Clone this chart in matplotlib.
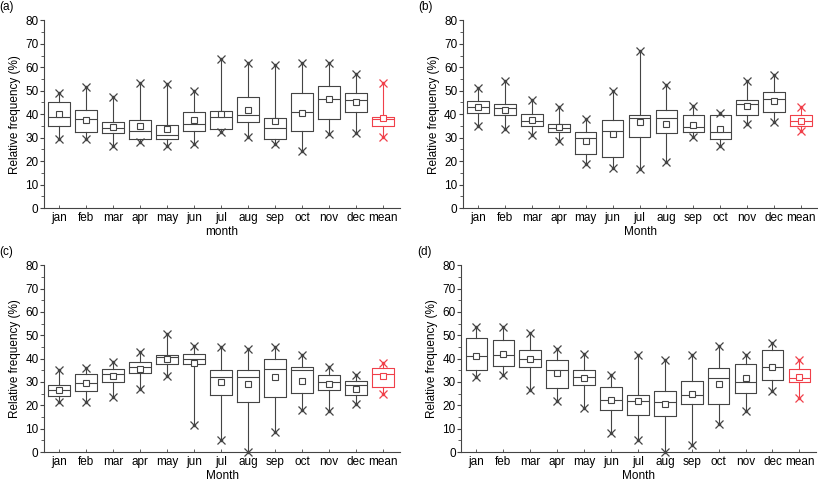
import numpy as np
import matplotlib
matplotlib.use("Agg")
import matplotlib.pyplot as plt

plt.rcParams['font.family'] = ['Liberation Sans', 'DejaVu Sans']

months = ['jan', 'feb', 'mar', 'apr', 'may', 'jun', 'jul', 'aug', 'sep',
          'oct', 'nov', 'dec', 'mean']

# panel (a)
a_max = [49, 51.5, 47.5, 53.5, 53, 50, 63.5, 62, 61, 62, 62, 57, 53.5]
a_min = [29.5, 29.5, 26.5, 28, 26.5, 27.5, 32.5, 30.5, 27.5, 24.5, 31.5, 32, 30.5]
a_q1 = [35, 32.5, 32, 29.5, 29.5, 33, 33.5, 36.5, 29.5, 33, 38, 41, 35]
a_q3 = [45, 42, 36.5, 37.5, 35.5, 41, 41.5, 47.5, 38.5, 49, 52, 49, 39]
a_med = [39, 38, 34, 33, 31, 36, 39, 39.5, 34, 41, 46.5, 46, 38]
a_mean = [40, 37.5, 34.5, 35, 33.5, 37.5, 40, 42, 37, 40.5, 46.5, 45, 38.5]

# panel (b)
b_max = [51, 54, 46, 43, 38, 50, 67, 52.5, 43.5, 40.5, 54, 56.5, 43]
b_min = [35, 33.5, 31, 28.5, 19, 17, 16.5, 19.5, 30.5, 26.5, 36, 36.5, 33]
b_q1 = [40.5, 39.5, 35, 32.5, 23, 22, 30.5, 32, 32.5, 29.5, 39.5, 41, 35]
b_q3 = [45.5, 44.5, 40, 36, 32.5, 37.5, 39.5, 42, 39.5, 39.5, 46, 49.5, 39.5]
b_med = [43, 42.5, 37, 34, 30, 33, 38.5, 38.5, 34.5, 32.5, 44.5, 46.5, 37]
b_mean = [43, 42, 37.5, 34.5, 28.5, 31.5, 36.5, 36, 35.5, 33.5, 43.5, 45.5, 37]

# panel (c)
c_max = [35, 36, 38.5, 43, 50.5, 45.5, 45, 44, 45, 41.5, 36.5, 33, 38]
c_min = [21.5, 21.5, 23.5, 27, 32.5, 11.5, 5, 0, 8.5, 18, 17.5, 20.5, 25]
c_q1 = [24, 26, 30, 34, 37.5, 37.5, 24.5, 21.5, 23.5, 25.5, 26.5, 24.5, 28]
c_q3 = [28.5, 33.5, 35.5, 38.5, 41.5, 42, 35, 35, 40, 36.5, 33, 30.5, 36]
c_med = [26.5, 29.5, 33.5, 36.5, 40.5, 40, 32, 32, 35.5, 35, 30, 28.5, 33.5]
c_mean = [26.5, 29.5, 32.5, 35.5, 40, 38, 30, 29, 32, 30.5, 29, 27, 32.5]

# panel (d)
d_max = [53.5, 53.5, 51, 44, 42, 33, 41.5, 39.5, 41.5, 45.5, 41.5, 46.5, 39.5]
d_min = [32, 33, 26.5, 22, 19, 8, 5, 0, 3, 12, 17.5, 26, 23]
d_q1 = [35, 37, 36.5, 27.5, 28.5, 18, 16, 15.5, 20.5, 20.5, 25.5, 31, 30]
d_q3 = [49, 48, 43.5, 39.5, 35, 28, 24.5, 26, 30.5, 36, 37.5, 43.5, 35.5]
d_med = [41, 41.5, 40, 35, 32, 22.5, 22, 21.5, 24.5, 31.5, 30, 36.5, 31.5]
d_mean = [41, 42, 40, 34, 31.5, 22.5, 22, 20.5, 25, 29, 31.5, 36.5, 32]

panels = [
    ('(a)', 'month', a_max, a_min, a_q1, a_q3, a_med, a_mean),
    ('(b)', 'Month', b_max, b_min, b_q1, b_q3, b_med, b_mean),
    ('(c)', 'Month', c_max, c_min, c_q1, c_q3, c_med, c_mean),
    ('(d)', 'Month', d_max, d_min, d_q1, d_q3, d_med, d_mean),
]

# axes rectangles in figure fraction
rects = [
    [0.054, 0.569, 0.435, 0.389],
    [0.566, 0.569, 0.434, 0.389],
    [0.054, 0.064, 0.435, 0.387],
    [0.564, 0.064, 0.434, 0.387],
]

dark = '#444444'
red = '#f0404a'

fig = plt.figure(figsize=(8.18, 4.83), dpi=100)

for (tag, xlab, mx, mn, q1, q3, med, mean), r in zip(panels, rects):
    ax = fig.add_axes(r)
    pos = np.arange(1, len(months) + 1)
    for i in range(len(months)):
        col = red if months[i] == 'mean' else dark
        st = [dict(med=med[i], q1=q1[i], q3=q3[i], whislo=mn[i], whishi=mx[i],
                   mean=mean[i], fliers=[])]
        ax.bxp(st, positions=[pos[i]], widths=0.8, showcaps=False,
               showmeans=True, patch_artist=False,
               boxprops=dict(color=col, linewidth=0.8),
               whiskerprops=dict(color=col, linewidth=0.8),
               medianprops=dict(color=col, linewidth=0.8),
               meanprops=dict(marker='s', markerfacecolor='white',
                              markeredgecolor=col, markersize=5,
                              markeredgewidth=0.8))
        ax.plot([pos[i], pos[i]], [mn[i], mx[i]], ls='none', marker='x',
                color=col, markersize=6, mew=0.9, clip_on=False, zorder=4)
        ax.plot([pos[i], pos[i]], [mn[i], mx[i]], ls='none', marker='.',
                color=col, markersize=3, clip_on=False, zorder=4)

    ax.set_xlim(0.44, 13.63)
    ax.set_ylim(0, 80)
    ax.set_yticks(np.arange(0, 81, 10))
    ax.set_yticks(np.arange(5, 80, 10), minor=True)
    ax.set_xticks(pos)
    ax.set_xticklabels(months)
    ax.spines['top'].set_visible(False)
    ax.spines['right'].set_visible(False)
    for s in ['left', 'bottom']:
        ax.spines[s].set_color(dark)
        ax.spines[s].set_linewidth(0.8)
    ax.tick_params(axis='y', which='major', direction='out', length=3,
                   width=0.8, color=dark, labelsize=8.5, pad=1)
    ax.tick_params(axis='y', which='minor', direction='out', length=2,
                   width=0.6, color=dark)
    ax.tick_params(axis='x', direction='in', length=2, width=0.6,
                   color=dark, labelsize=8.5, pad=3)
    ax.set_ylabel('Relative frequency (%)', fontsize=8.5, labelpad=3)
    ax.set_xlabel(xlab, fontsize=8.5, labelpad=1)
    ax.text(-0.125, 1.04, tag, transform=ax.transAxes, fontsize=8.5,
            ha='left', va='bottom')

fig.savefig('out.png', dpi=100)
